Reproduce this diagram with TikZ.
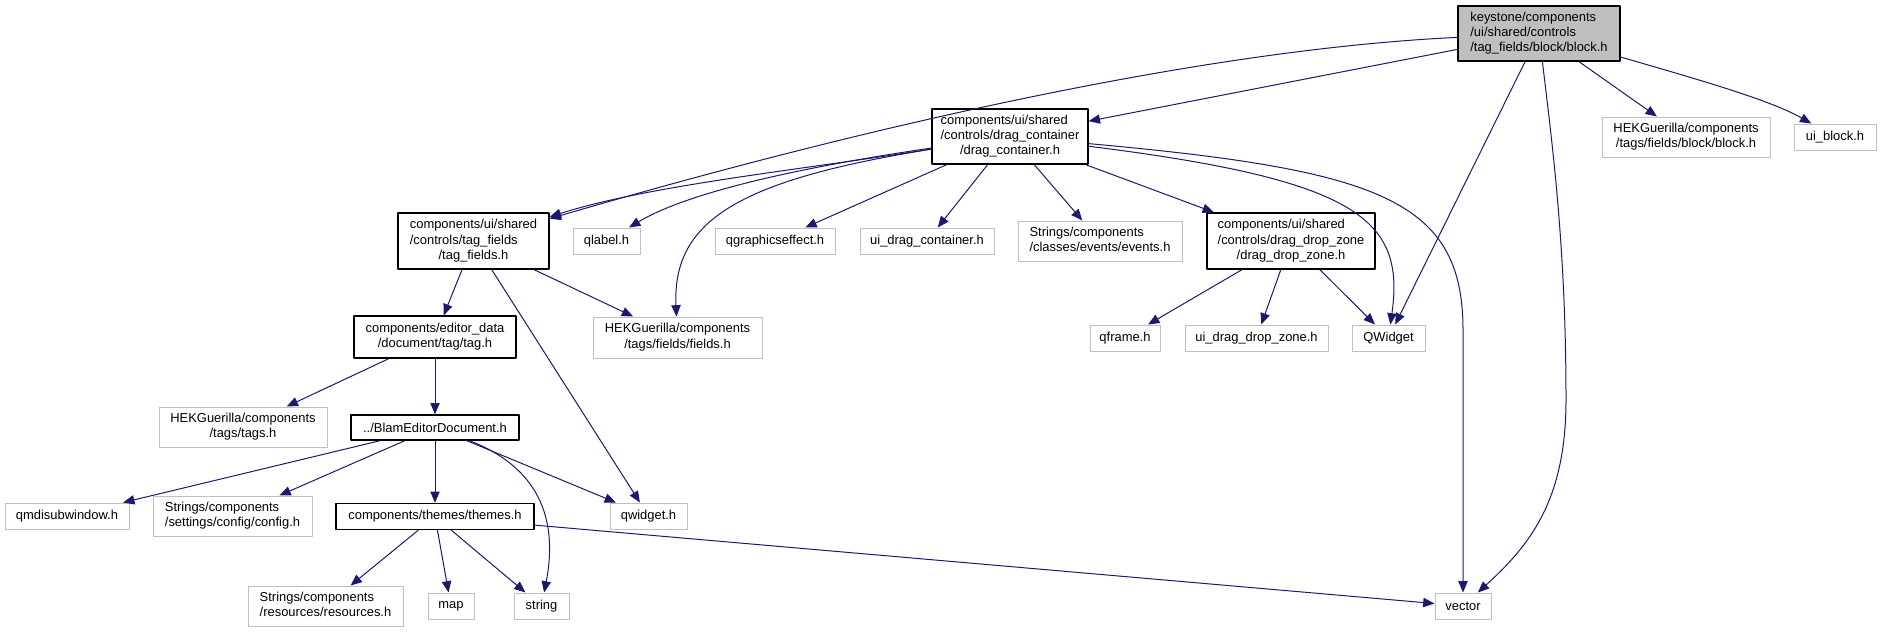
\documentclass[tikz,border=0pt]{standalone}
\usepackage{fontspec}
\setmainfont{Liberation Sans}
\usetikzlibrary{arrows.meta}
\definecolor{edgeblue}{HTML}{191970}
\definecolor{boxgray}{HTML}{BFBFBF}
% doxygen style labels: all lines left, the last one centred
\newcommand{\pathtwo}[2]{\begin{tabular}{@{}l@{}}#1\\\multicolumn{1}{@{}c@{}}{#2}\end{tabular}}
\newcommand{\paththree}[3]{\begin{tabular}{@{}l@{}}#1\\#2\\\multicolumn{1}{@{}c@{}}{#3}\end{tabular}}
\begin{document}
\begin{tikzpicture}[x=0.75pt, y=-0.75pt, font=\fontsize{9.7}{11.3}\selectfont, line join=round,
  >={Triangle[length=8.5pt,width=7pt]},
  wd/.style={minimum width=#1*0.75pt}, ht/.style={minimum height=#1*0.75pt},
  extbox/.style={draw=boxgray, line width=0.75pt, fill=white, inner sep=0pt},
  projbox/.style={draw=black, line width=1pt, fill=white, inner sep=0pt},
  rootbox/.style={projbox, fill=boxgray},
  dep/.style={->, draw=edgeblue, line width=0.75pt}]
	\useasboundingbox (0,0) rectangle (1881,632);
	% files
	\node[rootbox, wd=162, ht=55] (block) at (1539,33.5) {\paththree{keystone/components}{/ui/shared/controls}{/tag\_fields/block/block.h}};
	\node[extbox, wd=168, ht=40] (hekblock) at (1686,137) {\pathtwo{HEKGuerilla/components}{/tags/fields/block/block.h}};
	\node[extbox, wd=82, ht=26] (uiblock) at (1835,137) {ui\_block.h};
	\node[projbox, wd=156, ht=55] (dragc) at (1010,136.5) {\paththree{components/ui/shared}{/controls/drag\_container}{/drag\_container.h}};
	\node[projbox, wd=151, ht=56] (tagf) at (473.5,241) {\paththree{components/ui/shared}{/controls/tag\_fields}{/tag\_fields.h}};
	\node[extbox, wd=67, ht=26] (qlabel) at (606.5,241) {qlabel.h};
	\node[extbox, wd=120, ht=26] (qgfx) at (775,241) {qgraphicseffect.h};
	\node[extbox, wd=134, ht=26] (uidragc) at (927,241) {ui\_drag\_container.h};
	\node[extbox, wd=164, ht=40] (events) at (1100,241) {\pathtwo{Strings/components}{/classes/events/events.h}};
	\node[projbox, wd=168, ht=56] (ddz) at (1291,241) {\paththree{components/ui/shared}{/controls/drag\_drop\_zone}{/drag\_drop\_zone.h}};
	\node[extbox, wd=70, ht=26] (qframe) at (1125,338) {qframe.h};
	\node[extbox, wd=143, ht=26] (uiddz) at (1256.5,338) {ui\_drag\_drop\_zone.h};
	\node[extbox, wd=73, ht=26] (QWidget) at (1388.5,338) {QWidget};
	\node[extbox, wd=169, ht=41] (fields) at (677.5,337.5) {\pathtwo{HEKGuerilla/components}{/tags/fields/fields.h}};
	\node[projbox, wd=162, ht=42] (tag) at (435,337) {\pathtwo{components/editor\_data}{/document/tag/tag.h}};
	\node[extbox, wd=168, ht=40] (tags) at (243,427) {\pathtwo{HEKGuerilla/components}{/tags/tags.h}};
	\node[projbox, wd=168, ht=25] (blam) at (435,427.5) {../BlamEditorDocument.h};
	\node[extbox, wd=124, ht=26] (qmdi) at (67,516) {qmdisubwindow.h};
	\node[extbox, wd=159, ht=40] (config) at (232.5,516) {\pathtwo{Strings/components}{/settings/config/config.h}};
	\node[projbox, wd=198, ht=26] (themes) at (435,516.5) {components/themes/themes.h};
	\node[extbox, wd=77, ht=26] (qwidget) at (648.5,516) {qwidget.h};
	\node[extbox, wd=155, ht=40] (resources) at (325.5,606) {\pathtwo{Strings/components}{/resources/resources.h}};
	\node[extbox, wd=46, ht=26] (map) at (451,606) {map};
	\node[extbox, wd=55, ht=26] (string) at (541.5,606) {string};
	\node[extbox, wd=56, ht=26] (vector) at (1463,606) {vector};
	% includes of block.h
	\draw[dep] (block) -- (dragc);
	\draw[dep] (block) .. controls (1150,52) and (750,160) .. (tagf);
	\draw[dep] (block) -- (hekblock);
	\draw[dep] (block) .. controls (1700,80) and (1770,100) .. (uiblock);
	\draw[dep] (block) -- (QWidget);
	\draw[dep] (block) .. controls (1553,150) and (1566,250) .. (1566,400) .. controls (1566,500) and (1530,545) .. (vector);
	% includes of drag_container.h
	\draw[dep] (dragc) .. controls (800,170) and (650,185) .. (tagf);
	\draw[dep] (dragc) .. controls (850,160) and (700,185) .. (qlabel);
	\draw[dep] (dragc) .. controls (740,180) and (672,220) .. (fields);
	\draw[dep] (dragc) -- (qgfx);
	\draw[dep] (dragc) -- (uidragc);
	\draw[dep] (dragc) -- (events);
	\draw[dep] (dragc) -- (ddz);
	\draw[dep] (dragc) .. controls (1360,180) and (1405,220) .. (QWidget);
	\draw[dep] (dragc) .. controls (1380,170) and (1463,200) .. (1463,330) -- (vector);
	% the rest
	\draw[dep] (tagf) -- (tag);
	\draw[dep] (tagf) -- (fields);
	\draw[dep] (tagf) -- (qwidget);
	\draw[dep] (ddz) -- (qframe);
	\draw[dep] (ddz) -- (uiddz);
	\draw[dep] (ddz) -- (QWidget);
	\draw[dep] (tag) -- (tags);
	\draw[dep] (tag) -- (blam);
	\draw[dep] (blam) -- (qmdi);
	\draw[dep] (blam) -- (config);
	\draw[dep] (blam) -- (themes);
	\draw[dep] (blam) -- (qwidget);
	\draw[dep] (blam) .. controls (520,460) and (562,500) .. (string);
	\draw[dep] (themes) -- (resources);
	\draw[dep] (themes) -- (map);
	\draw[dep] (themes) -- (string);
	\draw[dep] (themes) -- (vector);
\end{tikzpicture}
\end{document}
